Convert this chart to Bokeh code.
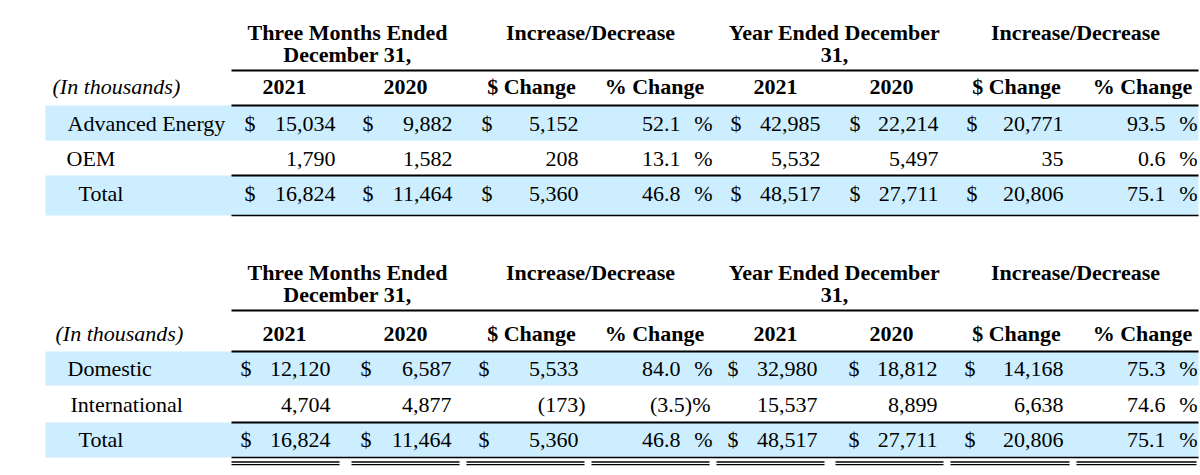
from bokeh.plotting import figure
from bokeh.models import Range1d, ColumnDataSource
from bokeh.core.properties import value
from bokeh.embed import file_html
from bokeh.resources import INLINE

# ---------------- data ----------------
group_headers_1 = ["Three Months Ended", "Increase/Decrease", "Year Ended December", "Increase/Decrease"]
group_headers_2 = ["December 31,", "", "31,", ""]
column_headers = ["2021", "2020", "$ Change", "% Change", "2021", "2020", "$ Change", "% Change"]
unit_label = "(In thousands)"

segments = ["Advanced Energy", "OEM", "Total"]
seg_q2021 = [15034, 1790, 16824]
seg_q2020 = [9882, 1582, 11464]
seg_q_chg = [5152, 208, 5360]
seg_q_pct = [52.1, 13.1, 46.8]
seg_y2021 = [42985, 5532, 48517]
seg_y2020 = [22214, 5497, 27711]
seg_y_chg = [20771, 35, 20806]
seg_y_pct = [93.5, 0.6, 75.1]

regions = ["Domestic", "International", "Total"]
reg_q2021 = [12120, 4704, 16824]
reg_q2020 = [6587, 4877, 11464]
reg_q_chg = [5533, -173, 5360]
reg_q_pct = [84.0, -3.5, 46.8]
reg_y2021 = [32980, 15537, 48517]
reg_y2020 = [18812, 8899, 27711]
reg_y_chg = [14168, 6638, 20806]
reg_y_pct = [75.3, 74.6, 75.1]

# ---------------- layout ----------------
FONT = value("Liberation Serif")
FS = "22px"
BLUE = "#cceeff"
TEXT_DY = -8  # baseline correction for svg text rendering

col_left = [231, 351, 466, 591, 716, 835, 950, 1076]
col_right = [339, 459, 584, 709, 824, 943, 1069, 1196]
pct_right = [None, None, None, 712, None, None, None, 1197]
hdr_x = [284, 405, 531, 654, 775, 891, 1016, 1142]
group_x = [347, 590, 834, 1075]
TABLE_LEFT, TABLE_RIGHT, RULE_LEFT = 45, 1198, 231

p = figure(width=1200, height=475, x_range=Range1d(0, 1200), y_range=Range1d(475, 0),
           output_backend="svg", toolbar_location=None, min_border=0,
           x_axis_type=None, y_axis_type=None, outline_line_color=None,
           background_fill_color="white", border_fill_color="white")


def add_text(xs, ys, texts, align, style="normal"):
    if not texts:
        return
    src = ColumnDataSource(dict(x=xs, y=[y + TEXT_DY for y in ys], t=texts))
    p.text(x="x", y="y", text="t", source=src, text_font=FONT, text_font_size=FS,
           text_font_style=style, text_align=align, text_baseline="alphabetic",
           text_color="black")


def fmt_money(v):
    return f"({abs(v):,})" if v < 0 else f"{v:,}"


def draw_table(labels, label_x, unit_x, columns, g):
    num_right = g["num_right"]
    dollar_left = g["dollar_left"]
    # bands
    p.quad(left=[TABLE_LEFT, TABLE_LEFT], right=[TABLE_RIGHT, TABLE_RIGHT],
           top=[g["band1"][0], g["band3"][0]], bottom=[g["band1"][1], g["band3"][1]],
           fill_color=BLUE, line_color=None)
    # rules
    p.segment(x0=[RULE_LEFT, RULE_LEFT, RULE_LEFT], x1=[TABLE_RIGHT] * 3,
              y0=[g["hline"], g["band1"][0], g["band3"][0]],
              y1=[g["hline"], g["band1"][0], g["band3"][0]],
              line_color="black", line_width=2)
    p.segment(x0=[RULE_LEFT], x1=[TABLE_RIGHT], y0=[g["band3"][1]], y1=[g["band3"][1]],
              line_color="black", line_width=1.5)
    if g.get("double"):
        for yy in g["double"]:
            p.segment(x0=col_left, x1=col_right, y0=[yy] * 8, y1=[yy] * 8,
                      line_color="black", line_width=1.3)
    # group headers
    add_text(group_x, [g["h1"]] * 4, group_headers_1, "center", "bold")
    add_text(group_x, [g["h2"]] * 4, group_headers_2, "center", "bold")
    # column headers
    add_text(hdr_x, [g["yr"]] * 8, column_headers, "center", "bold")
    add_text([unit_x], [g["yr"]], [unit_label], "left", "italic")
    # row labels
    add_text(label_x, g["rows"], labels, "left")
    # cells
    rx, ry, rt = [], [], []
    lx, ly, lt = [], [], []
    for ci, vals in enumerate(columns):
        for ri, v in enumerate(vals):
            y = g["rows"][ri]
            if pct_right[ci] is not None:
                if v < 0:
                    rx.append(pct_right[ci] - 2); ry.append(y); rt.append(f"({abs(v):.1f})%")
                else:
                    rx.append(num_right[ci]); ry.append(y); rt.append(f"{v:.1f}")
                    rx.append(pct_right[ci]); ry.append(y); rt.append("%")
            else:
                if v < 0:
                    rx.append(num_right[ci] + 7)
                else:
                    rx.append(num_right[ci])
                ry.append(y); rt.append(fmt_money(v))
                if ri != 1:
                    lx.append(dollar_left[ci]); ly.append(y); lt.append("$")
    add_text(rx, ry, rt, "right")
    add_text(lx, ly, lt, "left")


top_geom = dict(h1=40, h2=62, hline=70, yr=94, band1=(105, 140), band3=(175, 215),
                rows=[131, 166, 201],
                num_right=[335, 452, 578, 680, 820, 938, 1063, 1165],
                dollar_left=[244, 362, 481, None, 730, 849, 966, None])
bot_geom = dict(h1=280, h2=302, hline=310, yr=341, band1=(351, 385), band3=(422, 457),
                rows=[376, 412, 447], double=[461.5, 464.2],
                num_right=[330, 451, 578, 680, 817, 937, 1063, 1165],
                dollar_left=[240, 360, 478, None, 727, 848, 964, None])

draw_table(segments, [67, 66, 78], 52,
           [seg_q2021, seg_q2020, seg_q_chg, seg_q_pct, seg_y2021, seg_y2020, seg_y_chg, seg_y_pct],
           top_geom)
draw_table(regions, [67, 70, 78], 55,
           [reg_q2021, reg_q2020, reg_q_chg, reg_q_pct, reg_y2021, reg_y2020, reg_y_chg, reg_y_pct],
           bot_geom)

open("out.html", "w").write(file_html(p, INLINE))
